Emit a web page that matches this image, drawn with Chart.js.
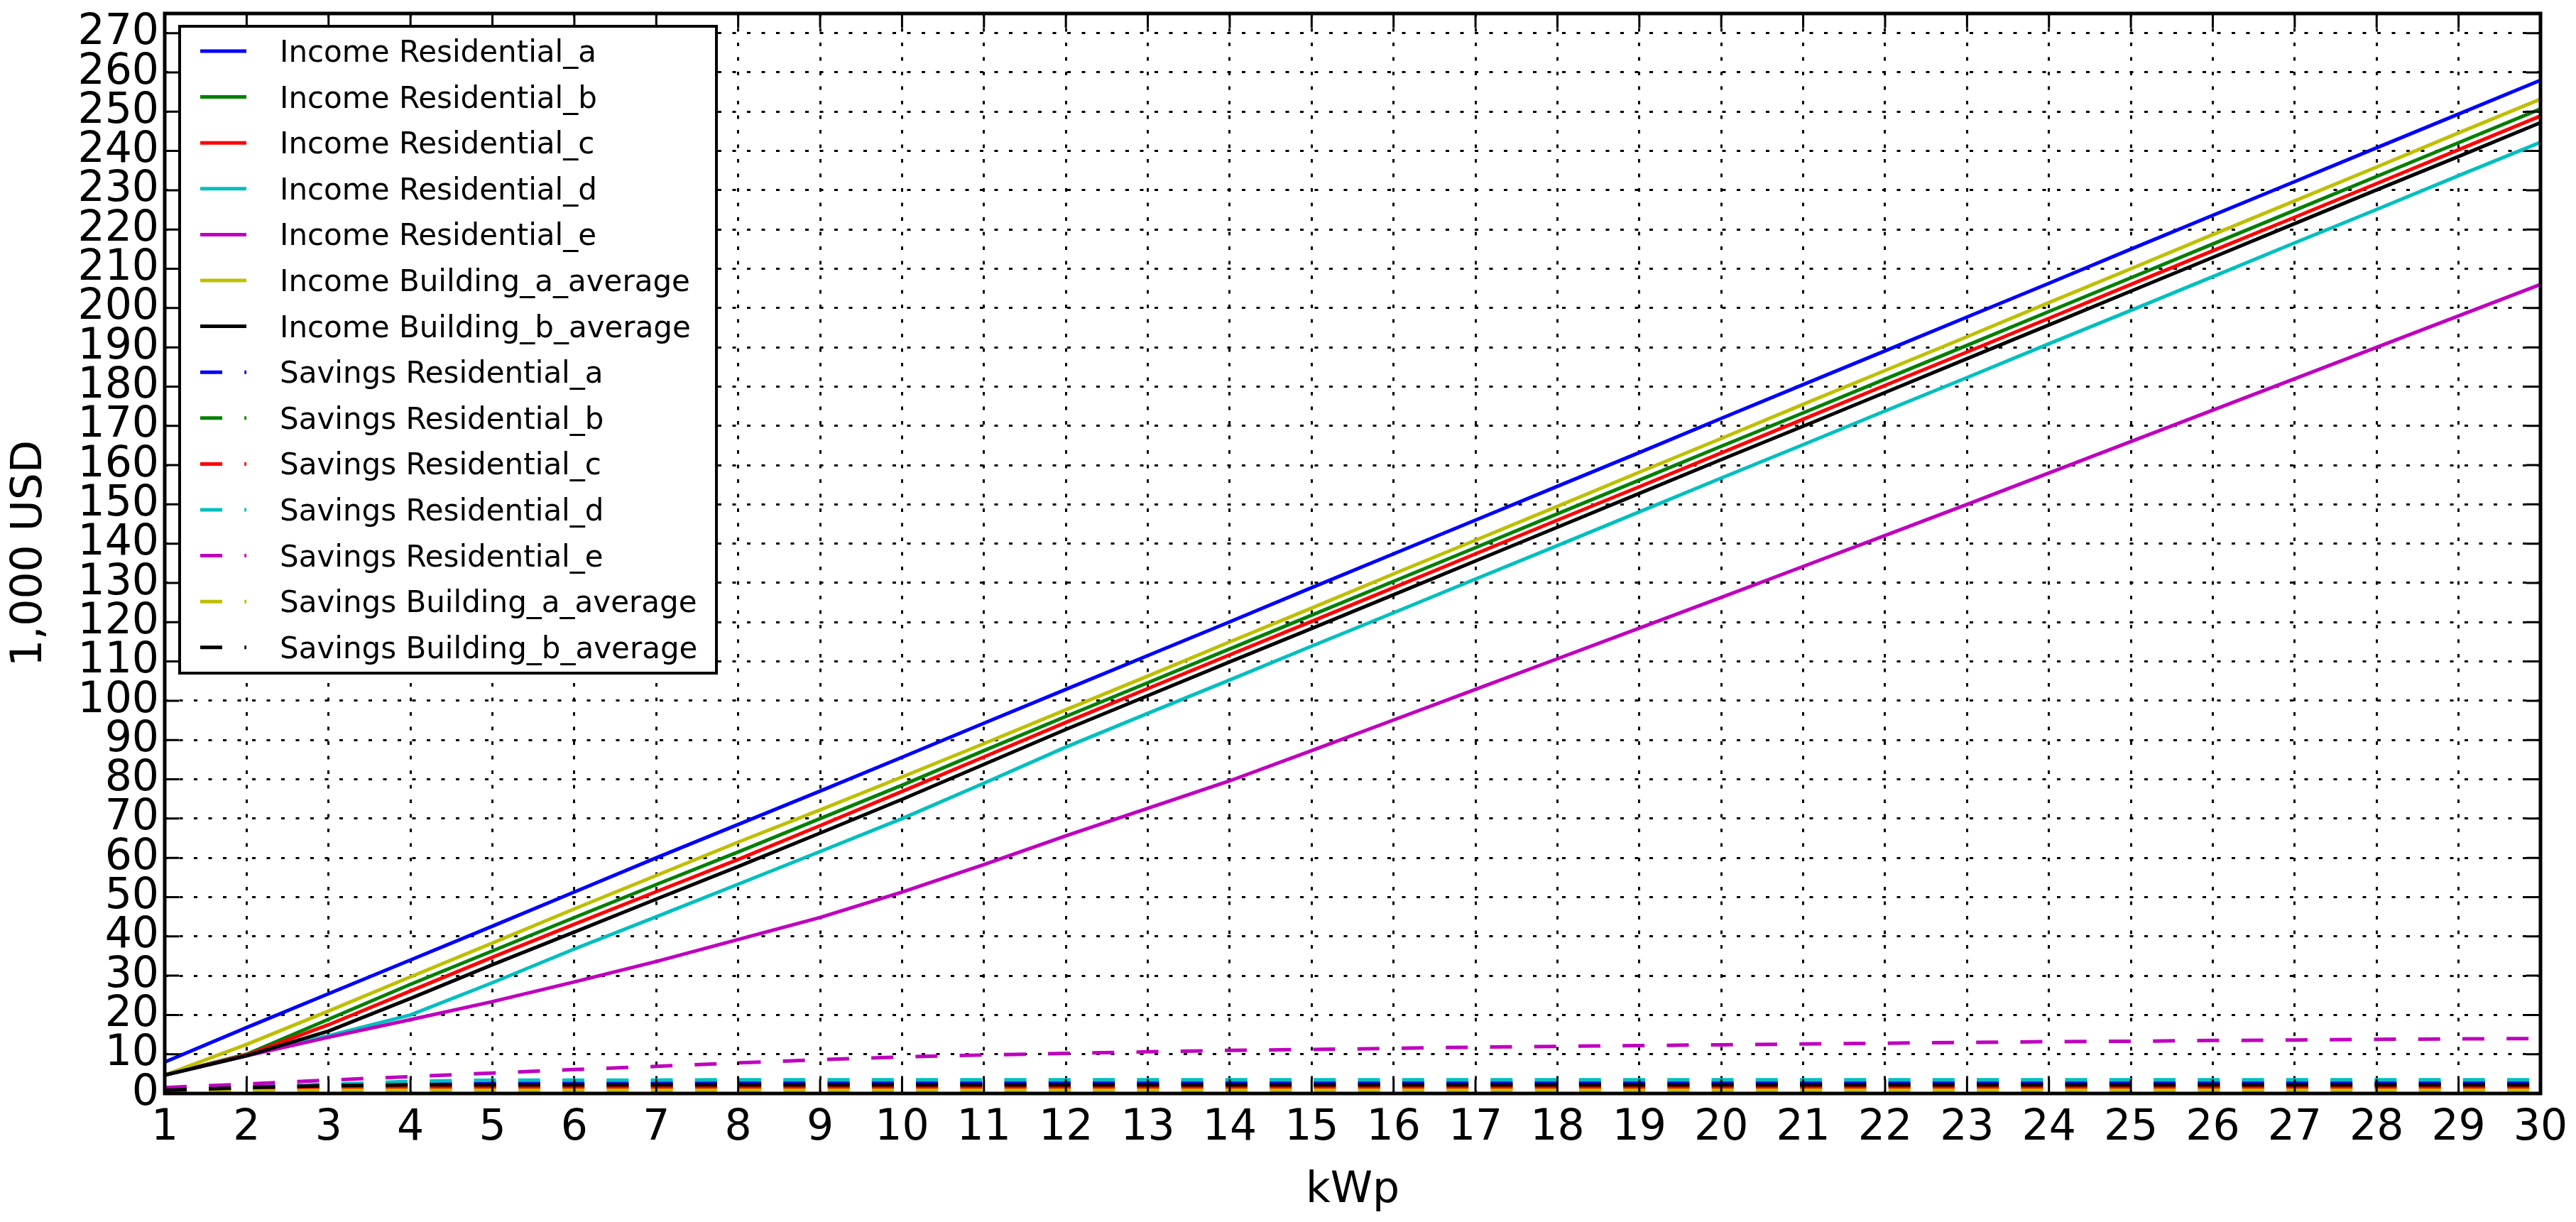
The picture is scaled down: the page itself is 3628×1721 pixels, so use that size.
<!DOCTYPE html>
<html>
<head>
<meta charset="utf-8">
<script src="https://cdn.jsdelivr.net/npm/chart.js@4.4.0/dist/chart.umd.min.js"></script>
<style>
html, body { margin: 0; padding: 0; background: #fff; }
</style>
</head>
<body>
<canvas id="myChart" width="3628" height="1721"></canvas>
<script>
var kwp = [1, 2, 3, 4, 5, 6, 7, 8, 9, 10, 11, 12, 13, 14, 15, 16, 17, 18, 19, 20, 21, 22, 23, 24, 25, 26, 27, 28, 29, 30];
var yTicks = [0, 10, 20, 30, 40, 50, 60, 70, 80, 90, 100, 110, 120, 130, 140, 150, 160, 170, 180, 190, 200, 210, 220, 230, 240, 250, 260, 270];

// Income (solid lines), 1,000 USD
var incomeResA = [8.0, 16.8, 25.4, 34.0, 42.6, 51.3, 60.0, 68.5, 77.0, 85.6, 94.3, 102.9, 111.5, 120.1, 128.8, 137.4, 146.0, 154.6, 163.2, 171.9, 180.5, 189.1, 197.7, 206.3, 215.0, 223.6, 232.2, 240.8, 249.4, 258.0];
var incomeResB = [4.7, 10.0, 18.9, 27.8, 36.3, 44.8, 53.2, 61.5, 70.0, 78.5, 87.3, 96.0, 104.6, 113.2, 121.8, 130.4, 139.0, 147.6, 156.2, 164.8, 173.3, 181.9, 190.5, 199.1, 207.7, 216.3, 224.9, 233.5, 242.1, 250.7];
var incomeResC = [4.7, 9.8, 17.5, 26.1, 34.7, 43.1, 51.4, 59.6, 68.2, 76.9, 85.7, 94.5, 103.1, 111.7, 120.2, 128.8, 137.4, 146.0, 154.5, 163.1, 171.7, 180.3, 188.8, 197.4, 206.0, 214.6, 223.1, 231.7, 240.3, 248.9];
var incomeResD = [4.7, 9.6, 14.7, 20.0, 28.2, 36.8, 45.0, 53.3, 61.6, 70.0, 79.0, 88.2, 96.8, 105.3, 113.9, 122.4, 131.0, 139.5, 148.1, 156.7, 165.2, 173.8, 182.3, 190.9, 199.4, 208.0, 216.6, 225.1, 233.7, 242.2];
var incomeResE = [4.7, 9.6, 14.3, 18.8, 23.4, 28.4, 33.6, 39.2, 44.8, 51.3, 58.3, 65.6, 72.6, 79.6, 87.3, 95.1, 102.9, 110.7, 118.5, 126.3, 134.2, 142.1, 150.0, 158.0, 166.0, 174.0, 182.0, 190.0, 198.0, 206.0];
var incomeBldgA = [4.7, 12.5, 21.0, 29.7, 38.3, 47.0, 55.5, 64.0, 72.2, 80.6, 89.1, 97.7, 106.3, 115.0, 123.6, 132.3, 140.9, 149.5, 158.2, 166.8, 175.5, 184.1, 192.7, 201.4, 210.0, 218.7, 227.3, 235.9, 244.6, 253.2];
var incomeBldgB = [4.7, 9.6, 15.9, 24.2, 32.8, 41.1, 49.5, 57.8, 66.3, 74.9, 83.8, 92.7, 101.3, 109.9, 118.4, 127.0, 135.6, 144.2, 152.8, 161.4, 169.9, 178.5, 187.1, 195.7, 204.3, 212.9, 221.5, 230.1, 238.6, 247.2];

// Savings (dashed lines), 1,000 USD
var savResA = [0.8, 1.6, 2.3, 2.7, 2.8, 2.8, 2.8, 2.8, 2.8, 2.8, 2.8, 2.8, 2.8, 2.8, 2.8, 2.8, 2.8, 2.8, 2.8, 2.8, 2.8, 2.8, 2.8, 2.8, 2.8, 2.8, 2.8, 2.8, 2.8, 2.8];
var savResB = [0.7, 1.3, 1.7, 1.9, 2.0, 2.0, 2.0, 2.0, 2.0, 2.0, 2.0, 2.0, 2.0, 2.0, 2.0, 2.0, 2.0, 2.0, 2.0, 2.0, 2.0, 2.0, 2.0, 2.0, 2.0, 2.0, 2.0, 2.0, 2.0, 2.0];
var savResC = [0.6, 1.0, 1.3, 1.5, 1.5, 1.5, 1.5, 1.5, 1.5, 1.5, 1.5, 1.5, 1.5, 1.5, 1.5, 1.5, 1.5, 1.5, 1.5, 1.5, 1.5, 1.5, 1.5, 1.5, 1.5, 1.5, 1.5, 1.5, 1.5, 1.5];
var savResD = [0.8, 1.5, 2.3, 3.1, 3.4, 3.4, 3.4, 3.5, 3.5, 3.5, 3.5, 3.5, 3.5, 3.5, 3.5, 3.5, 3.5, 3.5, 3.5, 3.5, 3.5, 3.5, 3.5, 3.5, 3.5, 3.5, 3.5, 3.5, 3.5, 3.5];
var savResE = [1.5, 2.4, 3.4, 4.3, 5.2, 6.1, 6.9, 7.8, 8.6, 9.3, 9.8, 10.2, 10.6, 11.0, 11.2, 11.5, 11.8, 12.0, 12.2, 12.4, 12.6, 12.8, 13.0, 13.2, 13.3, 13.5, 13.6, 13.8, 13.9, 14.0];
var savBldgA = [0.4, 0.6, 0.8, 0.8, 0.8, 0.8, 0.8, 0.8, 0.8, 0.8, 0.8, 0.8, 0.8, 0.8, 0.8, 0.8, 0.8, 0.8, 0.8, 0.8, 0.8, 0.8, 0.8, 0.8, 0.8, 0.8, 0.8, 0.8, 0.8, 0.8];
var savBldgB = [0.8, 1.5, 2.0, 2.2, 2.2, 2.2, 2.2, 2.2, 2.2, 2.2, 2.2, 2.2, 2.2, 2.2, 2.2, 2.2, 2.2, 2.2, 2.2, 2.2, 2.2, 2.2, 2.2, 2.2, 2.2, 2.2, 2.2, 2.2, 2.2, 2.2];

var seriesNames = ['Residential_a', 'Residential_b', 'Residential_c', 'Residential_d', 'Residential_e', 'Building_a_average', 'Building_b_average'];
var seriesColors = ['#0000ff', '#008000', '#ff0000', '#00bfbf', '#bf00bf', '#bfbf00', '#000000'];
var incomeData = [incomeResA, incomeResB, incomeResC, incomeResD, incomeResE, incomeBldgA, incomeBldgB];
var savingsData = [savResA, savResB, savResC, savResD, savResE, savBldgA, savBldgB];

var yMax = 275;
var dashPattern = [31, 31.25];

Chart.defaults.font.family = '"DejaVu Sans", sans-serif';
Chart.defaults.color = '#000';

var datasets = [];
for (var i = 0; i < seriesNames.length; i++) {
	datasets.push({
		label: 'Income ' + seriesNames[i],
		data: incomeData[i],
		borderColor: seriesColors[i],
		borderWidth: 5,
		borderDash: [],
		pointRadius: 0,
		fill: false
	});
}
for (var i = 0; i < seriesNames.length; i++) {
	datasets.push({
		label: 'Savings ' + seriesNames[i],
		data: savingsData[i],
		borderColor: seriesColors[i],
		borderWidth: 5,
		borderDash: dashPattern,
		borderCapStyle: 'butt',
		pointRadius: 0,
		fill: false
	});
}
// first plotted series ends up at the bottom, as in the original
datasets.forEach(function(ds, idx) { ds.order = -idx; });

// inward ticks, axes frame and legend box
var framePlugin = {
	id: 'framePlugin',
	afterDraw: function(chart) {
		var ctx = chart.ctx;
		var a = chart.chartArea;
		var xs = chart.scales.x;
		var ys = chart.scales.y;
		var tickLen = 20;
		ctx.save();
		ctx.setLineDash([]);
		ctx.strokeStyle = '#000';
		ctx.lineWidth = 3;
		ctx.beginPath();
		for (var i = 0; i < xs.ticks.length; i++) {
			var px = xs.getPixelForTick(i);
			ctx.moveTo(px, a.bottom); ctx.lineTo(px, a.bottom - tickLen);
			ctx.moveTo(px, a.top); ctx.lineTo(px, a.top + tickLen);
		}
		for (var j = 0; j < ys.ticks.length; j++) {
			var py = ys.getPixelForValue(ys.ticks[j].value);
			ctx.moveTo(a.left, py); ctx.lineTo(a.left + tickLen, py);
			ctx.moveTo(a.right, py); ctx.lineTo(a.right - tickLen, py);
		}
		ctx.stroke();
		ctx.lineWidth = 5;
		ctx.strokeRect(a.left, a.top, a.right - a.left, a.bottom - a.top);

		// legend
		var lx = 253, ly = 37, lw = 756, lh = 911;
		ctx.fillStyle = '#fff';
		ctx.fillRect(lx, ly, lw, lh);
		ctx.lineWidth = 4;
		ctx.strokeRect(lx, ly, lw, lh);
		ctx.font = '42px "DejaVu Sans"';
		ctx.textAlign = 'left';
		ctx.textBaseline = 'alphabetic';
		var dsList = chart.data.datasets;
		for (var k = 0; k < dsList.length; k++) {
			var rowY = 72 + k * 64.6;
			ctx.strokeStyle = dsList[k].borderColor;
			ctx.lineWidth = 5;
			ctx.lineCap = 'butt';
			ctx.setLineDash(dsList[k].borderDash);
			ctx.beginPath();
			ctx.moveTo(282, rowY);
			ctx.lineTo(347, rowY);
			ctx.stroke();
			ctx.setLineDash([]);
			ctx.fillStyle = '#000';
			ctx.fillText(dsList[k].label, 394, rowY + 15);
		}
		ctx.restore();
	}
};

var chart = new Chart(document.getElementById('myChart'), {
	type: 'line',
	data: {
		labels: kwp,
		datasets: datasets
	},
	options: {
		responsive: false,
		animation: false,
		layout: {
			padding: { top: 19, right: 50, left: 0, bottom: 0 }
		},
		plugins: {
			legend: { display: false },
			tooltip: { enabled: false }
		},
		scales: {
			x: {
				type: 'category',
				offset: false,
				grid: { color: '#000', lineWidth: 3, drawTicks: false },
				border: { display: false, dash: [5, 15.5] },
				ticks: { font: { size: 60 }, padding: 13, maxRotation: 0, autoSkip: false },
				title: { display: true, text: 'kWp', font: { size: 60 }, padding: { top: 0, bottom: 8 } },
				afterFit: function(scale) {
					scale.height = 181;
					scale.paddingLeft = 0;
					scale.paddingRight = 0;
				}
			},
			y: {
				type: 'linear',
				min: 0,
				max: yMax,
				grid: { color: '#000', lineWidth: 3, drawTicks: false },
				border: { display: false, dash: [5, 15.5] },
				ticks: { font: { size: 60 }, padding: 8, autoSkip: false },
				title: { display: true, text: '1,000 USD', font: { size: 60 }, padding: { top: 6, bottom: 0 } },
				afterBuildTicks: function(scale) {
					scale.ticks = yTicks.map(function(v) { return { value: v }; });
				},
				afterFit: function(scale) {
					scale.width = 232;
					scale.paddingTop = 0;
					scale.paddingBottom = 0;
				}
			}
		}
	},
	plugins: [framePlugin]
});
</script>
</body>
</html>
